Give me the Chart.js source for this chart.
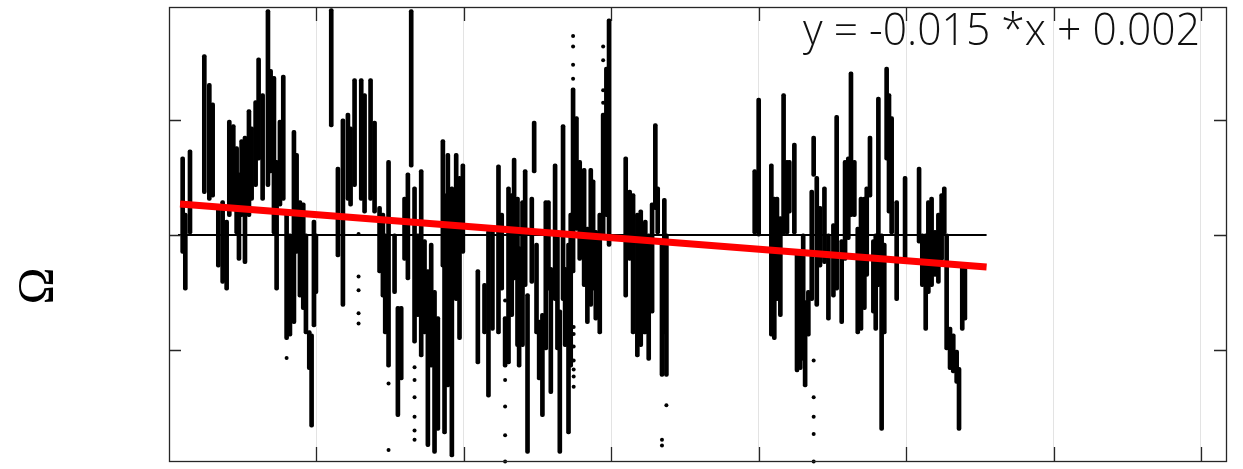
<!DOCTYPE html>
<html>
<head>
<meta charset="utf-8">
<script src="https://cdn.jsdelivr.net/npm/chart.js@4"></script>
<style>
  html, body { margin: 0; padding: 0; background: #fff; }
  #wrap { width: 1243px; height: 469px; }
</style>
</head>
<body>
<div id="wrap"><canvas id="omega-chart"></canvas></div>
<script>
// Vertical runs of samples (sample index, top and bottom value of the run)
const streakX = [
    9.27, 11.07, 14.24, 23.96, 27.35, 29.61, 33.45, 36.39, 39.10, 40.91, 43.62, 45.88, 47.46, 49.27, 51.53,
    54.24, 56.05, 58.76, 60.79, 63.51, 67.12, 68.93, 71.19, 73.0, 75.26, 77.52, 79.78, 82.04, 84.75, 86.56,
    88.82, 91.08, 92.89, 95.15, 96.73, 98.31, 99.67,
    110.06, 114.58, 117.97, 121.36, 123.17, 125.88, 130.4, 132.66, 136.73, 139.44, 142.83, 145.09, 146.67,
    148.93, 153.0, 155.26, 157.52, 159.78, 162.04, 164.3, 166.56, 168.82, 171.08, 173.34, 175.6, 177.86,
    180.12, 182.38, 185.77, 186.9, 189.16, 191.87, 194.81, 197.07, 199.33, 209.5, 214.02,
    216.7, 219.4, 223.5, 225.7, 228.0, 230.3, 232.5, 234.1, 236.4, 237.5, 239.8, 241.6, 243.2, 246.1, 247.7,
    249.3, 251.1, 253.3, 255.6, 257.4, 259.0, 261.9, 263.5, 265.1, 267.3, 268.7, 271.0, 272.5, 274.1, 276.4,
    278.6, 281.6, 283.8, 286.1, 287.7, 289.5, 292.2, 294.5, 296.7, 298.5, 309.8, 312.5, 314.8, 317.7, 320.0,
    322.3, 323.1, 325.4, 327.7, 329.9, 331.5, 334.4, 336.0, 337.4,
    397.3, 400.0, 408.6, 410.6, 412.4, 414.7, 416.9, 419.2, 420.8, 424.2, 426.0, 428.2, 430.2,
    431.5, 433.7, 436.0, 437.3, 439.4, 441.6, 444.6, 447.3, 450.7, 452.9, 456.3, 458.6, 460.8, 462.6, 464.9,
    467.2, 469.4, 471.7, 473.3, 475.5, 477.8, 479.4, 481.2, 483.4, 485.2, 486.8, 488.4, 490.2, 493.6, 499.3,
    508.8, 511.0, 513.3, 515.1, 517.3, 519.6, 521.9, 524.1, 525.9, 527.5, 529.8, 532.0, 534.3, 535.9, 538.1,
    539.9
];
const streakTop = [
    0.68, 0.19, 0.74, 1.57, 1.32, 1.15, 0.25, 0.30, 0.13, 1.00, 0.96, 0.77, 0.54, 0.83, 0.86,
    1.09, 0.94, 1.17, 1.54, 1.23, 1.96, 1.44, 1.38, 0.65, 1.00, 1.39, 0.19, 0.01, 0.91, 0.71,
    0.30, 0.28, 0.01, -0.83, -0.86, 0.13, 0.01,
    1.97, 0.59, 1.01, 1.06, 0.94, 1.36, 1.36, 1.23, 1.36, 0.99, 0.25, 0.19, 0.01,
    0.65, 0.01, -0.62, -0.62, 0.33, 0.54, 1.96, 0.42, 0.01, 0.57, -0.04, -0.30, -0.07,
    -0.48, -0.71, 0.83, 0.36, 0.71, 0.42, 0.71, 0.51, 0.62, -0.30, -0.42,
    0.04, 0.04, 0.61, 0.19, -0.71, 0.42, 0.36, 0.67, 0.33, -0.10, 0.30, 0.57, -0.51, 0.33, 0.99,
    -0.07, -0.74, -0.68, 0.30, 0.30, -0.28, 0.62, 0.01, -0.65, 0.96, -0.28, -0.07, 0.19, 1.28, 1.03,
    0.65, 0.58, 0.07, 0.58, 0.48, 0.04, 0.19, 1.06, 1.46, 1.88, 0.68, 0.39, 0.36, 0.19, 0.22,
    0.01, 0.13, 0.01, 0.28, 0.97, 0.42, -0.04, 0.32, 0.01,
    0.57, 1.19, 0.62, 0.33, 0.33, 0.16, 1.23, 0.65, 0.65, 0.80, -0.16, -0.13, 0.01,
    -0.57, -0.48, 0.39, 0.86, 0.51, 0.25, 0.42, 0.01, 0.10, 1.04, -0.04, 0.65, 0.68, 1.42, 0.65,
    0.07, 0.33, 0.33, 0.42, 0.86, -0.04, 0.01, 1.20, 0.01, -0.07, 1.46, 1.23, 1.03, 0.30, 0.51,
    0.59, 0.01, 0.01, 0.30, 0.33, 0.04, 0.19, 0.36, 0.42, 0.01, -0.80, -0.86, -1.00, -1.15, -0.25,
    -0.28
];
const streakBottom = [
    -0.16, -0.48, 0.01, 0.36, 0.30, 0.33, -0.28, -0.42, -0.48, 0.16, 0.25, 0.01, -0.22, 0.16, -0.25,
    0.16, 0.30, 0.42, 0.65, 0.30, 0.42, 0.54, 0.01, -0.48, 0.25, 0.30, -0.91, -0.88, -0.77, -0.16,
    -0.54, -0.65, -0.86, -1.17, -1.67, -0.80, -0.51,
    0.94, -0.19, -0.62, 0.30, 0.25, 0.42, 0.30, 0.19, 0.30, 0.19, -0.33, -0.54, -0.86,
    -1.15, -0.51, -1.58, -1.26, -0.22, -0.39, 0.59, -0.94, -0.71, -1.06, -0.86, -1.84, -1.15,
    -1.90, -1.70, -0.28, -1.73, -1.32, -1.93, -0.57, -0.91, -0.16, -1.12, -0.86,
    -1.41, -0.83, -0.86, -0.48, -1.15, -1.12, -0.71, -0.39, -0.97, -1.15, -0.97, -0.45, -1.90, -0.42, 0.54,
    -0.86, -1.26, -1.58, -1.00, -0.48, -1.38, -0.57, -1.00, -1.90, -0.57, -0.97, -1.73, -1.15, -0.33, 0.04,
    -0.22, -0.45, -0.77, -0.62, -0.48, -0.74, -0.86, -0.04, 0.16, -0.10, -0.54, -0.22, -0.86, -1.06, -0.97,
    -0.86, -0.86, -1.09, -0.68, 0.22, 0.01, -1.23, -0.86, -1.23,
    0.01, -0.01, -0.88, -0.91, -0.57, -0.71, 0.01, 0.01, 0.19, 0.01, -1.19, -1.17, -1.09,
    -1.32, -0.88, -0.57, 0.51, -0.62, -0.28, -0.25, -0.74, -0.54, -0.48, -0.77, -0.22, -0.04, 0.16, 0.16,
    -0.86, -0.83, -0.65, -0.36, 0.33, -0.68, -0.83, -0.45, -1.70, -0.86, 0.65, 0.19, 0.01, -0.57, -0.25,
    -0.07, -0.45, -0.83, -0.51, -0.45, -0.36, -0.42, -0.22, 0.01, -1.00, -1.17, -1.20, -1.29, -1.70, -0.83,
    -0.74
];

// Isolated samples
const dotX = [
    79.78, 128.59, 128.59, 128.59, 128.59, 128.59, 148.93, 148.93,
    166.56, 166.56, 166.56, 166.56, 166.56, 166.56,
    228.0, 228.0, 228.0, 228.0, 228.0,
    274.5, 274.5, 274.5, 274.5, 274.5, 274.5, 274.5,
    274.1, 274.1, 274.1, 274.1, 294.5, 294.5, 294.5, 294.5,
    334.4, 334.4, 337.4,
    437.3, 437.3, 437.3, 437.3, 437.3
];
const dotY = [
    -1.07, 0.01, -0.36, -0.48, -0.68, -0.77, -1.29, -1.87,
    -1.15, -1.26, -1.41, -1.58, -1.70, -1.78,
    -0.57, -1.26, -1.49, -1.74, -1.97,
    -0.80, -0.86, -0.97, -1.09, -1.17, -1.23, -1.32,
    1.73, 1.64, 1.48, 1.36, 1.64, 1.52, 1.26, 1.15,
    -1.78, -1.83, -1.48,
    -1.09, -1.41, -1.58, -1.73, -1.97
];

// Linear fit and zero reference
const fitX = [7.5, 554.6];
const fitY = [0.27, -0.278];
const zeroX = [6.1, 554.6];
const zeroY = [0, 0];

const xTicks = [100, 200, 300, 400, 500, 600, 700];
const yTicks = [-1, 0, 1];
const fitLabel = 'y = -0.015 *x + 0.002';
const yLabel = 'Ω';

const toPoints = (xs, ys) => xs.map((x, i) => ({ x: x, y: ys[i] }));

// box, inward tick marks, equation and axis label
const frame = {
    id: 'frame',
    afterDatasetsDraw(chart) {
        const { ctx, chartArea: a, scales } = chart;
        ctx.save();
        ctx.strokeStyle = '#262626';
        ctx.lineWidth = 1.3;
        ctx.beginPath();
        scales.x.ticks.forEach(t => {
            const px = Math.round(scales.x.getPixelForValue(t.value)) + 0.5;
            ctx.moveTo(px, a.top); ctx.lineTo(px, a.top + 14);
            ctx.moveTo(px, a.bottom); ctx.lineTo(px, a.bottom - 14);
        });
        scales.y.ticks.forEach(t => {
            const py = Math.round(scales.y.getPixelForValue(t.value)) + 0.5;
            ctx.moveTo(a.left, py); ctx.lineTo(a.left + 12, py);
            ctx.moveTo(a.right, py); ctx.lineTo(a.right - 12, py);
        });
        ctx.stroke();
        ctx.strokeRect(a.left + 0.5, a.top + 0.5, a.right - a.left, a.bottom - a.top);

        // equation, squeezed to the width it takes in the original
        ctx.save();
        ctx.fillStyle = '#111';
        ctx.font = '300 45px "Open Sans"';
        ctx.textAlign = 'left';
        ctx.textBaseline = 'alphabetic';
        const w = ctx.measureText(fitLabel).width;
        ctx.translate(803, 45);
        ctx.scale(397 / w, 1);
        ctx.fillText(fitLabel, 0, 0);
        ctx.restore();

        ctx.translate(52, 286);
        ctx.rotate(-Math.PI / 2);
        ctx.font = '50px "Liberation Serif"';
        ctx.textAlign = 'center';
        ctx.fillStyle = '#000';
        ctx.fillText(yLabel, 0, 0);
        ctx.restore();
    }
};

const ctx = document.getElementById('omega-chart').getContext('2d');
const chart = new Chart(ctx, {
    type: 'scatter',
    data: {
        datasets: [
            {
                type: 'line',
                data: toPoints(fitX, fitY),
                borderColor: '#ff0000',
                borderWidth: 7,
                pointRadius: 0,
                order: 0
            },
            {
                type: 'line',
                data: toPoints(zeroX, zeroY),
                borderColor: '#000',
                borderWidth: 2,
                pointRadius: 0,
                order: 1
            },
            {
                data: toPoints(dotX, dotY),
                backgroundColor: '#000',
                borderWidth: 0,
                pointRadius: 2,
                clip: false,
                order: 2
            },
            {
                type: 'bar',
                data: streakX.map((x, i) => ({ x: x, y: [streakBottom[i], streakTop[i]] })),
                backgroundColor: '#000',
                barThickness: 4,
                borderRadius: 2,
                borderSkipped: false,
                order: 3
            }
        ]
    },
    options: {
        responsive: true,
        maintainAspectRatio: false,
        animation: false,
        devicePixelRatio: 1,
        layout: { padding: { left: 169, right: 17, top: 7, bottom: 8 } },
        plugins: {
            legend: { display: false },
            tooltip: { enabled: false }
        },
        scales: {
            x: {
                type: 'linear',
                min: 0,
                max: 717,
                offset: false,
                afterBuildTicks: s => { s.ticks = xTicks.map(v => ({ value: v })); },
                grid: { color: '#e3e3e3', lineWidth: 1, drawTicks: false, offset: false },
                border: { display: false },
                ticks: { display: false }
            },
            y: {
                min: -1.965,
                max: 1.983,
                display: false,
                afterBuildTicks: s => { s.ticks = yTicks.map(v => ({ value: v })); }
            }
        }
    },
    plugins: [frame]
});
</script>
</body>
</html>
